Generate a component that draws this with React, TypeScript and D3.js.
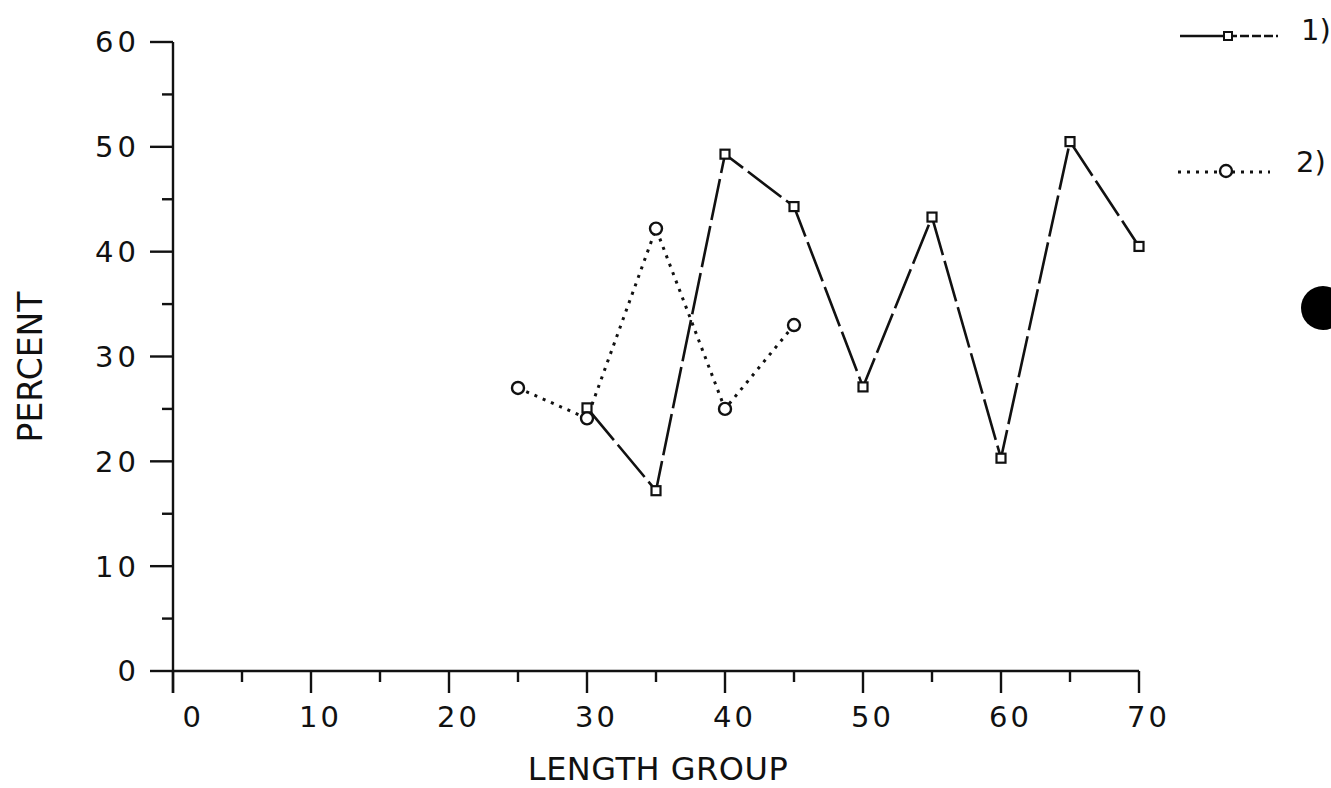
import { useRef, useEffect } from 'react'
import * as d3 from 'd3'

// Length groups and percentages
const GROUPS_1 = [30, 35, 40, 45, 50, 55, 60, 65, 70]
const PCT_1 = [25.1, 17.2, 49.3, 44.3, 27.1, 43.3, 20.3, 50.5, 40.5]

const GROUPS_2 = [25, 30, 35, 40, 45]
const PCT_2 = [27.0, 24.1, 42.2, 25.0, 33.0]

const X_TICKS = [0, 10, 20, 30, 40, 50, 60, 70]
const Y_TICKS = [0, 10, 20, 30, 40, 50, 60]

const W = 1331
const H = 788
const FONT = '"DejaVu Sans", sans-serif'
const INK = '#111'

export default function App() {
  const svgRef = useRef<SVGSVGElement | null>(null)

  useEffect(() => {
    const svg = d3.select(svgRef.current)
    svg.selectAll('*').remove()

    const x = d3.scaleLinear().domain([0, 70]).range([173, 1139])
    const y = d3.scaleLinear().domain([0, 60]).range([671, 42])

    const g = svg.append('g')
      .attr('stroke', INK)
      .attr('stroke-width', 2.4)
      .attr('fill', 'none')

    // --- Axes ---
    g.append('line')
      .attr('x1', x(0)).attr('x2', x(0))
      .attr('y1', y(60)).attr('y2', y(0) + 22)
    g.append('line')
      .attr('x1', x(0)).attr('x2', x(70))
      .attr('y1', y(0)).attr('y2', y(0))

    // y ticks: majors every 10, minors every 5
    d3.range(0, 61, 5).forEach(v => {
      const major = v % 10 === 0
      g.append('line')
        .attr('x1', x(0) - (major ? 23 : 11)).attr('x2', x(0))
        .attr('y1', y(v)).attr('y2', y(v))
    })
    // x ticks
    d3.range(0, 71, 5).forEach(v => {
      const major = v % 10 === 0
      g.append('line')
        .attr('x1', x(v)).attr('x2', x(v))
        .attr('y1', y(0)).attr('y2', y(0) + (major ? 22 : 11))
    })

    const txt = svg.append('g')
      .attr('fill', INK)
      .attr('font-family', FONT)
      .attr('font-size', 29)

    txt.selectAll('.ylab')
      .data(Y_TICKS)
      .join('text')
      .attr('x', x(0) - 33)
      .attr('y', d => y(d))
      .attr('dy', '0.36em')
      .attr('text-anchor', 'end')
      .attr('letter-spacing', 4)
      .text(d => d)

    txt.selectAll('.xlab')
      .data(X_TICKS)
      .join('text')
      .attr('x', d => x(d) + 31)
      .attr('y', 717)
      .attr('dy', '0.36em')
      .attr('text-anchor', 'end')
      .attr('letter-spacing', 3)
      .text(d => d)

    txt.append('text')
      .attr('x', 658)
      .attr('y', 768)
      .attr('dy', '0.36em')
      .attr('text-anchor', 'middle')
      .attr('font-size', 32)
      .attr('letter-spacing', 0.5)
      .text('LENGTH GROUP')

    txt.append('text')
      .attr('transform', 'translate(30,367) rotate(-90)')
      .attr('dy', '0.36em')
      .attr('text-anchor', 'middle')
      .attr('font-size', 33)
      .text('PERCENT')

    // --- Series ---
    const s1 = GROUPS_1.map((d, i) => [x(d), y(PCT_1[i])] as [number, number])
    const s2 = GROUPS_2.map((d, i) => [x(d), y(PCT_2[i])] as [number, number])
    const line = d3.line()

    g.append('path')
      .attr('d', line(s2))
      .attr('stroke-width', 3)
      .attr('stroke-dasharray', '3,6')

    g.append('path')
      .attr('d', line(s1))
      .attr('stroke-width', 2.6)
      .attr('stroke-dasharray', '42,6')

    g.selectAll('.sq')
      .data(s1)
      .join('rect')
      .attr('x', d => d[0] - 4.5)
      .attr('y', d => d[1] - 4.5)
      .attr('width', 9)
      .attr('height', 9)
      .attr('fill', '#fff')
      .attr('stroke-width', 2.2)

    g.selectAll('.ci')
      .data(s2)
      .join('circle')
      .attr('cx', d => d[0])
      .attr('cy', d => d[1])
      .attr('r', 6)
      .attr('fill', '#fff')
      .attr('stroke-width', 2.4)

    // --- Legend ---
    const leg = svg.append('g').attr('stroke', INK).attr('fill', 'none')
    leg.append('line')
      .attr('x1', 1180).attr('x2', 1228).attr('y1', 36).attr('y2', 36)
      .attr('stroke-width', 2.4)
    leg.append('line')
      .attr('x1', 1228).attr('x2', 1278).attr('y1', 36).attr('y2', 36)
      .attr('stroke-width', 2.4)
      .attr('stroke-dasharray', '9,3')
    leg.append('rect')
      .attr('x', 1224).attr('y', 32).attr('width', 8).attr('height', 8)
      .attr('fill', '#fff').attr('stroke-width', 2)

    leg.append('line')
      .attr('x1', 1178).attr('x2', 1270).attr('y1', 172).attr('y2', 172)
      .attr('stroke-width', 3)
      .attr('stroke-dasharray', '3,6')
    leg.append('circle')
      .attr('cx', 1226).attr('cy', 171).attr('r', 6)
      .attr('fill', '#fff').attr('stroke-width', 2.4)

    txt.append('text').attr('x', 1301).attr('y', 30).attr('dy', '0.36em')
      .text('1)')
    txt.append('text').attr('x', 1296).attr('y', 162).attr('dy', '0.36em')
      .text('2)')

    // punched hole at the right edge of the scan
    svg.append('circle')
      .attr('cx', 1323).attr('cy', 308)
      .attr('r', 22)
      .attr('fill', '#000')
  }, [])

  return (
    <div style={{ position: 'fixed', left: 0, top: 0, width: W, height: H, background: '#fff' }}>
      <svg ref={svgRef} width={W} height={H} style={{ display: 'block' }} />
    </div>
  )
}
